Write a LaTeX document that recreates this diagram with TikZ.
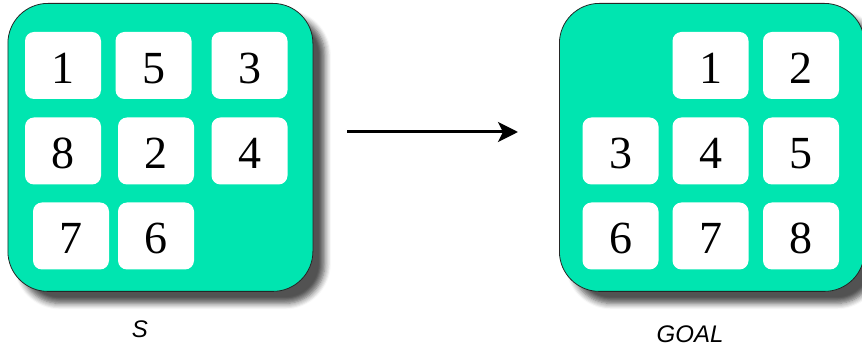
\documentclass[tikz,border=0pt]{standalone}
\usepackage{fontspec}
\setmainfont{Liberation Serif}
\newfontfamily\labelfont{Liberation Sans}
\usetikzlibrary{arrows.meta,shadows.blur}
\definecolor{boardgreen}{RGB}{0,229,176}
\tikzset{
  board/.style={draw=black!85, line width=0.8pt, fill=boardgreen,
    rounded corners=40pt, minimum width=305pt, minimum height=288pt,
    inner sep=0pt, anchor=north west,
    blur shadow={shadow xshift=12pt, shadow yshift=-12pt,
      shadow blur radius=6pt, shadow blur steps=6, shadow opacity=68}},
  tile/.style={fill=white, rounded corners=9pt, minimum width=76pt,
    minimum height=67pt, inner sep=0pt, text height=36pt, text depth=0pt,
    font=\fontsize{46}{46}\selectfont},
  caption/.style={anchor=base, font=\labelfont\itshape\fontsize{24}{24}\selectfont},
  move/.style={line width=3pt, -{Stealth[length=20pt, width=20pt, inset=5pt]}}
}
\begin{document}
\begin{tikzpicture}[x=1pt, y=-1pt]
\useasboundingbox (0,0) rectangle (862,352);
\begin{scope}
\clip (0,0) rectangle (862,352);
% start board
\node[board] (start) at (7.5,3) {};
\node[tile] (s1) at (63,65.5) {1};
\node[tile] (s5) at (153.5,65.5) {5};
\node[tile] (s3) at (249.5,65.5) {3};
\node[tile] (s8) at (63,151) {8};
\node[tile] (s2) at (156,151) {2};
\node[tile] (s4) at (249.5,151) {4};
\node[tile] (s7) at (71,236) {7};
\node[tile] (s6) at (156,236) {6};
% goal board
\node[board] (goal) at (559,3) {};
\node[tile] (g1) at (710.5,65.5) {1};
\node[tile] (g2) at (801,65.5) {2};
\node[tile] (g3) at (620.5,151) {3};
\node[tile] (g4) at (710.5,151) {4};
\node[tile] (g5) at (801,151) {5};
\node[tile] (g6) at (620.5,236) {6};
\node[tile] (g7) at (710.5,236) {7};
\node[tile] (g8) at (801,236) {8};
\end{scope}
% captions
\node[caption] (slabel) at (140,338) {S};
\node[caption] (glabel) at (690,343) {GOAL};
% move arrow
\coordinate (from) at (347,132);
\coordinate (to) at (518,132);
\draw[move] (from) -- (to);
\end{tikzpicture}
\end{document}
